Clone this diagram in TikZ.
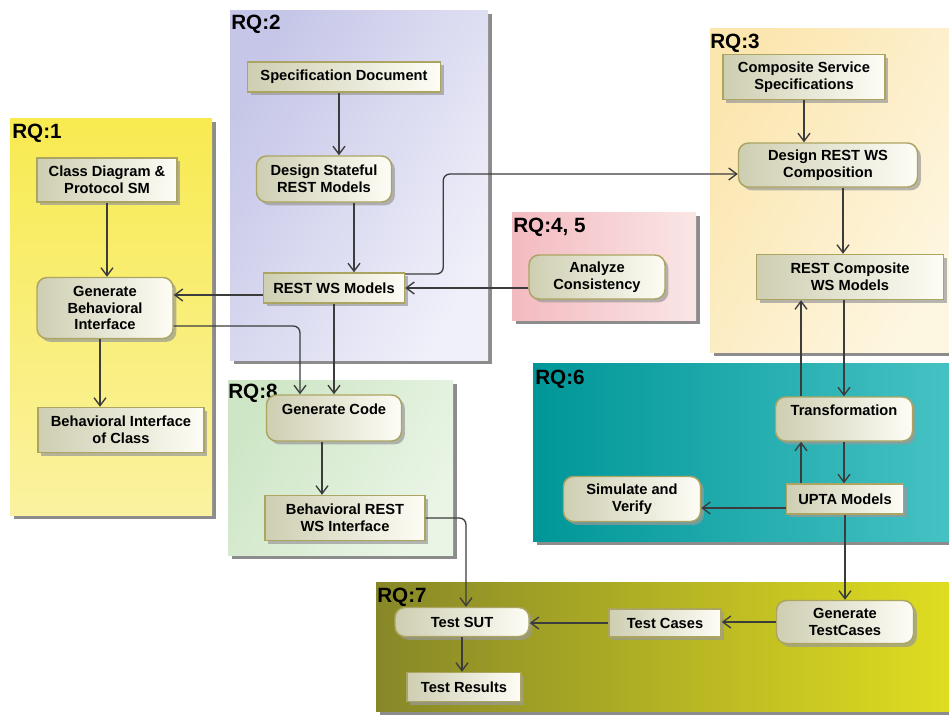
\documentclass[tikz,border=0pt]{standalone}
\usepackage{fontspec}
\setmainfont{Liberation Sans}
\usetikzlibrary{arrows.meta,shadows,calc}

\definecolor{linecol}{RGB}{60,60,60}
\definecolor{nodeL}{RGB}{206,206,178}
\definecolor{nodeR}{RGB}{253,253,246}
\definecolor{nodeborder}{RGB}{172,165,98}
\definecolor{yelA}{RGB}{248,234,80}
\definecolor{yelB}{RGB}{250,242,160}
\definecolor{lavA}{RGB}{198,198,232}
\definecolor{lavB}{RGB}{240,240,250}
\definecolor{peaA}{RGB}{252,230,175}
\definecolor{peaB}{RGB}{253,246,225}
\definecolor{pinA}{RGB}{243,186,192}
\definecolor{pinB}{RGB}{250,230,230}
\definecolor{griA}{RGB}{206,230,198}
\definecolor{griB}{RGB}{234,245,230}
\definecolor{teaA}{RGB}{0,150,152}
\definecolor{teaB}{RGB}{70,194,196}
\definecolor{oliA}{RGB}{135,135,40}
\definecolor{oliB}{RGB}{224,222,32}

\begin{document}
\begin{tikzpicture}[x=0.75pt,y=-0.75pt,
  panel/.style={general shadow={fill=black!45, shadow xshift=3pt, shadow yshift=-3pt}},
  rqlabel/.style={anchor=north west, inner sep=0pt, font=\fontsize{15.5}{18}\selectfont\bfseries},
  box/.style={rectangle, draw=nodeborder, line width=1.1pt, left color=nodeL, right color=nodeR,
    font=\fontsize{11}{12.5}\selectfont\bfseries, align=center, inner sep=2pt,
    drop shadow={shadow xshift=2.5pt, shadow yshift=-2.5pt, fill=black!40, opacity=0.7}},
  act/.style={box, rounded corners=7.5pt},
  raised/.style={text depth=13pt},
  sz/.style 2 args={minimum width=#1*0.75pt, minimum height=#2*0.75pt},
  arr/.style={draw=linecol, line width=1pt, -{Straight Barb[length=6pt,width=9pt]}},
  elbow/.style={rounded corners=5pt}]

\useasboundingbox (0,0) rectangle (949,718);
\fill[white] (0,0) rectangle (949,718);

% research-question regions
\shade[panel, top color=yelA, bottom color=yelB] (10,118) rectangle (212,515);
\shade[panel, left color=lavA, right color=lavB, shading angle=60] (230,10) rectangle (488,360);
\shade[panel, left color=peaA, right color=peaB, shading angle=60] (710,28) rectangle (955,352);
\shade[panel, left color=pinA, right color=pinB] (512,212) rectangle (696,320);
\shade[panel, left color=griA, right color=griB, shading angle=60] (228,380) rectangle (453,555);
\shade[panel, left color=teaA, right color=teaB] (533,363) rectangle (955,541);
\shade[panel, left color=oliA, right color=oliB] (376,582) rectangle (955,711);

\node[rqlabel] (l1) at (12,124) {RQ:1};
\node[rqlabel] (l2) at (231,15) {RQ:2};
\node[rqlabel] (l3) at (710,34) {RQ:3};
\node[rqlabel] (l45) at (513,218) {RQ:4, 5};
\node[rqlabel] (l8) at (228,384) {RQ:8};
\node[rqlabel] (l6) at (535,370) {RQ:6};
\node[rqlabel] (l7) at (377,588) {RQ:7};

% RQ:1
\node[box, sz={140}{44}] (cd) at (107,180) {Class Diagram \&\\Protocol SM};
\node[act, sz={136}{61}] (gbi) at (105,308) {Generate\\Behavioral\\Interface};
\node[box, sz={166}{45}] (bic) at (121,430) {Behavioral Interface\\of Class};

% RQ:2
\node[box, sz={193}{30}] (sd) at (344,77) {Specification Document};
\node[act, sz={135}{46}] (dsr) at (324,179) {Design Stateful\\REST Models};
\node[box, sz={141}{30}] (rws) at (334,288) {REST WS Models};

% RQ:3
\node[box, sz={162}{45}] (css) at (804,77) {Composite Service\\Specifications};
\node[act, sz={179}{44}] (drc) at (828,165) {Design REST WS\\Composition};
\node[box, sz={187}{45}] (rcw) at (850,277) {REST Composite\\WS Models};

% RQ:4, 5
\node[act, sz={136}{44}] (ac) at (597,277) {Analyze\\Consistency};

% RQ:8
\node[act, raised, sz={135}{46}] (gc) at (334,418) {Generate Code};
\node[box, sz={160}{45}] (brw) at (345,518) {Behavioral REST\\WS Interface};

% RQ:6
\node[act, raised, sz={137}{44}] (tr) at (844,419) {Transformation};
\node[box, sz={117}{30}] (upta) at (845,499) {UPTA Models};
\node[act, sz={137}{45}] (sv) at (632,499) {Simulate and\\Verify};

% RQ:7
\node[act, sz={134}{29}] (tsut) at (462,622) {Test SUT};
\node[box, sz={114}{29}] (tres) at (464,687) {Test Results};
\node[box, sz={112}{28}] (tc) at (665,623) {Test Cases};
\node[act, sz={137}{43}] (gtc) at (845,622) {Generate\\TestCases};

% connectors
\draw[arr] (cd.south) -- (cd.south |- gbi.north);
\draw[arr] ([shift={(-5,0)}]gbi.south) -- ([shift={(-5,0)}]gbi.south |- bic.north);
\draw[arr] ([shift={(0,7)}]rws.west) -- ([shift={(0,7)}]rws.west -| gbi.east);
\draw[arr, elbow] ([shift={(0,18)}]gbi.east) -| ([shift={(-34,0)}]gc.north);
\draw[arr] (rws.south) -- (gc.north);
\draw[arr] ([shift={(-12,0)}]gc.south) -- ([shift={(-12,0)}]gc.south |- brw.north);
\draw[arr] ([shift={(-5,0)}]sd.south) -- ([shift={(-5,0)}]sd.south |- dsr.north);
\draw[arr] ([shift={(30,0)}]dsr.south) -- ([shift={(30,0)}]dsr.south |- rws.north);
\draw[arr, elbow] ([shift={(0,-14)}]rws.east) -- ++(38,0) |- ([shift={(0,9)}]drc.west);
\draw[arr] (ac.west |- rws.east) -- (rws.east);
\draw[arr] (css.south) -- (css.south |- drc.north);
\draw[arr] ([shift={(15,0)}]drc.south) -- ([shift={(15,0)}]drc.south |- rcw.north);
\draw[arr] (tr.north |- rcw.south) -- (tr.north);
\draw[arr] (tr.south) -- (tr.south |- upta.north);
\draw[arr] ([shift={(-44,0)}]upta.north) -- ([shift={(-44,0)}]upta.north |- tr.south);
\draw[arr] ([shift={(-43,0)}]tr.north) -- ([shift={(-43,0)}]tr.north |- rcw.south);
\draw[arr] ([shift={(0,9)}]upta.west) -- ([shift={(0,9)}]upta.west -| sv.east);
\draw[arr] (upta.south) -- (upta.south |- gtc.north);
\draw[arr] (gtc.west) -- (gtc.west -| tc.east);
\draw[arr] (tc.west) -- (tc.west -| tsut.east);
\draw[arr, elbow] (brw.east) -| ([shift={(4,0)}]tsut.north);
\draw[arr] (tsut.south) -- (tsut.south |- tres.north);

\end{tikzpicture}
\end{document}
